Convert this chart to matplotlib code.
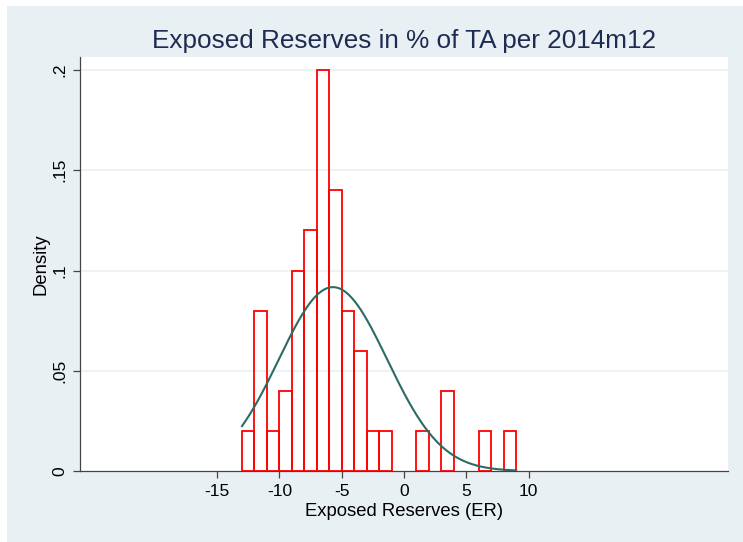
import numpy as np
import matplotlib
matplotlib.use("Agg")
import matplotlib.pyplot as plt
from matplotlib.patches import Rectangle

# Histogram bins (width 1) and their densities
bin_edges = [-13, -12, -11, -10, -9, -8, -7, -6, -5, -4, -3, -2, -1, 0, 1, 2, 3, 4, 5, 6, 7, 8, 9]
densities = [0.02, 0.08, 0.02, 0.04, 0.10, 0.12, 0.20, 0.14, 0.08, 0.06, 0.02, 0.02,
             0.0, 0.0, 0.02, 0.0, 0.04, 0.0, 0.0, 0.02, 0.0, 0.02]

# Normal density overlay parameters
er_mean = -5.7
er_sd = 4.35
er_min, er_max = -13, 9

x_ticks = [-15, -10, -5, 0, 5, 10]
y_ticks = [0, 0.05, 0.1, 0.15, 0.2]
y_tick_labels = ["0", ".05", ".1", ".15", ".2"]

title = "Exposed Reserves in % of TA per 2014m12"
x_label = "Exposed Reserves (ER)"
y_label = "Density"

BG = "#E9F0F3"
FONT = "Liberation Sans"
plt.rcParams["font.family"] = [FONT, "DejaVu Sans"]

fig = plt.figure(figsize=(7.43, 5.42), dpi=100)
fig.patch.set_facecolor("white")
fig.patches.append(Rectangle((7 / 743, 0), 1 - 7 / 743, (542 - 6) / 542,
                             transform=fig.transFigure, facecolor=BG,
                             edgecolor="none", zorder=0))

ax = fig.add_axes([80 / 743, (542 - 471) / 542, 648 / 743, 414 / 542])
ax.set_facecolor("white")
ax.set_zorder(1)

lefts = np.array(bin_edges[:-1], dtype=float)
widths = np.diff(bin_edges)
heights = np.array(densities)
mask = heights > 0
ax.bar(lefts[mask], heights[mask], width=widths[mask], align="edge",
       facecolor="none", edgecolor="#FF0000", linewidth=1.3, zorder=3)

xs = np.linspace(er_min, er_max, 400)
pdf = np.exp(-0.5 * ((xs - er_mean) / er_sd) ** 2) / (er_sd * np.sqrt(2 * np.pi))
ax.plot(xs, pdf, color="#2B6B63", linewidth=1.5, zorder=4)

ax.set_xlim(-26, 26)
ax.set_ylim(0, 0.2065)
ax.set_xticks(x_ticks)
ax.set_xticklabels([str(t) for t in x_ticks])
ax.set_yticks(y_ticks)
ax.set_yticklabels(y_tick_labels, rotation=90, va="center")

for y in y_ticks[1:]:
    ax.axhline(y, color=BG, linewidth=1.2, zorder=1)

for side in ["top", "right"]:
    ax.spines[side].set_visible(False)
for side in ["left", "bottom"]:
    ax.spines[side].set_color("#444444")
    ax.spines[side].set_linewidth(0.9)

ax.tick_params(axis="both", direction="out", length=5, width=0.9, color="#444444",
               labelsize=12.5, labelcolor="black")
ax.tick_params(axis="x", pad=4)
ax.tick_params(axis="y", pad=4)

ax.set_xlabel(x_label, fontsize=13.3, labelpad=3)
ax.set_ylabel(y_label, fontsize=13.3, labelpad=2)

fig.text(404 / 743, (542 - 48) / 542, title, ha="center", va="baseline",
         fontsize=18.8, color="#1E2B52")

fig.savefig("out.png", dpi=100)
